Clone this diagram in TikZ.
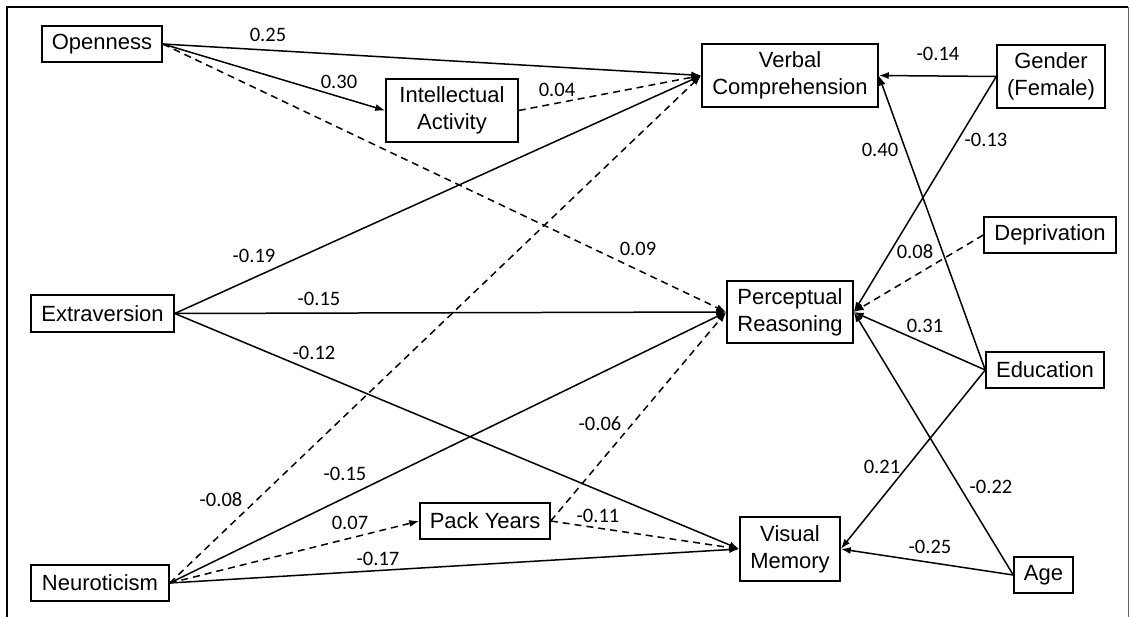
\documentclass[tikz,border=0pt]{standalone}
\usepackage{fontspec}
\setmainfont{Liberation Sans}
\newfontfamily\labfont{Carlito}
\usetikzlibrary{arrows.meta}
\begin{document}
\begin{tikzpicture}[x=1pt,y=-1pt,
  box/.style={draw, line width=1.5pt, inner sep=0pt, align=center,
    font=\fontsize{22}{27}\selectfont},
  lab/.style={font=\labfont\fontsize{20.5}{21}\selectfont, inner sep=0pt},
  arr/.style={line width=1.5pt, -{Latex[length=10pt,width=7pt]}},
  darr/.style={arr, dash pattern=on 7pt off 5pt}]
\useasboundingbox (0,0) rectangle (1130,617);
% frame
\draw[line width=2.5pt] (7,617) -- (7,7) -- (1128,7);
\draw[line width=0.8pt, black!60] (1128,7) -- (1128,617);
% nodes
\node[box, minimum width=120pt, minimum height=36pt] (open) at (102,44) {Openness};
\node[box, minimum width=132pt, minimum height=63pt] (intel) at (452,110.5) {Intellectual\\Activity};
\node[box, minimum width=176pt, minimum height=63pt] (verbal) at (790,75.5) {Verbal\\Comprehension};
\node[box, minimum width=108pt, minimum height=63pt] (gender) at (1051,76.5) {Gender\\(Female)};
\node[box, minimum width=132pt, minimum height=36pt] (depriv) at (1050,235) {Deprivation};
\node[box, minimum width=143pt, minimum height=37pt] (extra) at (102.5,313.5) {Extraversion};
\node[box, minimum width=126pt, minimum height=62pt] (perc) at (790,312) {Perceptual\\Reasoning};
\node[box, minimum width=118pt, minimum height=36pt] (educ) at (1045,370) {Education};
\node[box, minimum width=130pt, minimum height=36pt] (pack) at (485,521) {Pack Years};
\node[box, minimum width=100pt, minimum height=64pt] (visual) at (790,549) {Visual\\Memory};
\node[box, minimum width=138pt, minimum height=36pt] (neuro) at (100,583) {Neuroticism};
\node[box, minimum width=59pt, minimum height=36pt] (age) at (1043.5,575) {Age};
% connectors
\draw[arr] (open.east) -- (verbal.west);
\draw[arr] (open.east) -- (intel.west);
\draw[darr] (open.east) -- (perc.west);
\draw[darr] (intel.east) -- (verbal.west);
\draw[arr] (extra.east) -- (verbal.west);
\draw[arr] (extra.east) -- (perc.west);
\draw[arr] (extra.east) -- (visual.west);
\draw[darr] (neuro.east) -- (verbal.west);
\draw[arr] (neuro.east) -- (perc.west);
\draw[darr] (neuro.east) -- (pack.west);
\draw[arr] (neuro.east) -- (visual.west);
\draw[darr] (pack.east) -- (perc.west);
\draw[darr] (pack.east) -- (visual.west);
\draw[arr] (gender.west) -- (verbal.east);
\draw[arr] (gender.west) -- (perc.east);
\draw[darr] (depriv.west) -- (perc.east);
\draw[arr] (educ.west) -- (verbal.east);
\draw[arr] (educ.west) -- (perc.east);
\draw[arr] (educ.west) -- (visual.east);
\draw[arr] (age.west) -- (perc.east);
\draw[arr] (age.west) -- (visual.east);
% labels
\node[lab] (l1) at (268,35) {0.25};
\node[lab] (l2) at (339,82) {0.30};
\node[lab] (l3) at (557,90) {0.04};
\node[lab] (l4) at (254,256) {-0.19};
\node[lab] (l5) at (319,299) {-0.15};
\node[lab] (l6) at (314,353) {-0.12};
\node[lab] (l7) at (345,474) {-0.15};
\node[lab] (l8) at (221,500) {-0.08};
\node[lab] (l9) at (350,523) {0.07};
\node[lab] (l10) at (378,559) {-0.17};
\node[lab] (l11) at (938,54) {-0.14};
\node[lab] (l12) at (986,140) {-0.13};
\node[lab] (l13) at (880,150) {0.40};
\node[lab] (l14) at (638,249) {0.09};
\node[lab] (l15) at (915,252) {0.08};
\node[lab] (l16) at (925,326) {0.31};
\node[lab] (l17) at (600,424) {-0.06};
\node[lab] (l18) at (882,467) {0.21};
\node[lab] (l19) at (991,487) {-0.22};
\node[lab] (l20) at (598,516) {-0.11};
\node[lab] (l21) at (930,547) {-0.25};
\end{tikzpicture}
\end{document}
